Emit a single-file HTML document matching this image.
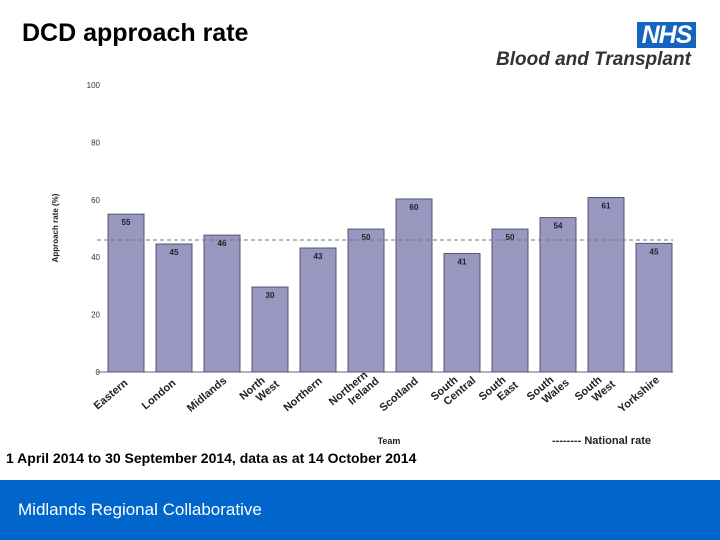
<!DOCTYPE html>
<html><head><meta charset="utf-8"><style>
body{margin:0;width:720px;height:540px;overflow:hidden;background:#fff;font-family:"Liberation Sans",Arial,sans-serif;position:relative}
.title{position:absolute;left:22px;top:19px;font-size:25px;font-weight:bold;color:#000}
.nhs{position:absolute;left:637px;top:22px;width:59px;height:26px;background:#1565c0;color:#fff;font-weight:bold;font-style:italic;font-size:25px;text-align:center;line-height:27px;letter-spacing:-1px}
.bt{position:absolute;left:496px;top:49px;font-size:19px;font-weight:bold;font-style:italic;color:#333;white-space:nowrap}
.sub{position:absolute;left:6px;top:450px;font-size:14px;font-weight:bold;color:#000}
.footer{position:absolute;left:0;top:480px;width:720px;height:60px;background:#0066cc}
.footer span{position:absolute;left:18px;top:20px;color:#fff;font-size:17px}
svg{position:absolute;left:0;top:0}
</style></head><body>
<div class="title">DCD approach rate</div>
<div class="nhs">NHS</div>
<div class="bt">Blood and Transplant</div>
<svg id="chart" width="720" height="480"></svg>
<div class="sub">1 April 2014 to 30 September 2014, data as at 14 October 2014</div>
<div class="footer"><span>Midlands Regional Collaborative</span></div>
<script>
const categories=[["Eastern"],["London"],["Midlands"],["North","West"],["Northern"],["Northern","Ireland"],["Scotland"],["South","Central"],["South","East"],["South","Wales"],["South","West"],["Yorkshire"]];
const values=[55,44.6,47.7,29.6,43.2,49.8,60.3,41.3,49.8,53.8,60.8,44.8];
const labels=["55","45","46","30","43","50","60","41","50","54","61","45"];
const yTicks=[0,20,40,60,80,100];
const nationalRate=46;
const NS="http://www.w3.org/2000/svg";
const svg=document.getElementById('chart');
const x0=97,bw=48,y0=372,ppu=2.87;
const y=v=>y0-v*ppu;
const xb=i=>x0+i*bw;
function el(t,a){const e=document.createElementNS(NS,t);for(const k in a)e.setAttribute(k,a[k]);svg.appendChild(e);return e;}
yTicks.forEach(t=>{
 const e=el('text',{x:100,y:y(t)+3,'font-size':8,'text-anchor':'end',fill:'#333'});
 
 
 e.textContent=t;
});
const ax=el('line',{x1:x0,y1:y0,x2:673,y2:y0,stroke:'#666','stroke-width':1});


const yt=el('text',{transform:'translate(58,228) rotate(-90)','font-size':8,'font-weight':'bold','text-anchor':'middle',fill:'#222'});


yt.textContent='Approach rate (%)';
values.forEach((v,i)=>{
 const b=el('rect',{x:xb(i)+11,y:y(v),width:36,height:v*ppu,fill:'#9797c0',stroke:'#555570','stroke-width':1});
 
 
 const t=el('text',{x:xb(i)+29,y:y(v)+11,'font-size':8,'font-weight':'bold','text-anchor':'middle',fill:'#222'});
 
 
 t.textContent=labels[i];
 const c=xb(i)+29;
 const two=categories[i].length>1;
 const g=el('text',{transform:`translate(${c-13},${two?394:397}) rotate(-40)`,'font-size':11,'font-weight':'bold','text-anchor':'middle',fill:'#222'});
 
 
 categories[i].forEach((s,j)=>{const ts=document.createElementNS(NS,'tspan');ts.setAttribute('x',two?j*10:0);ts.setAttribute('y',two?(j?8:-4):0);ts.textContent=s;g.appendChild(ts);});
});
const nl=el('line',{x1:x0,y1:y(nationalRate),x2:673,y2:y(nationalRate),stroke:'#777','stroke-width':1,'stroke-dasharray':'4,3'});


const xt=el('text',{x:389,y:444,'font-size':9,'font-weight':'bold','text-anchor':'middle',fill:'#222'});


xt.textContent='Team';
const lg=el('text',{x:552,y:444,'font-size':11,'font-weight':'bold',fill:'#222'});


lg.textContent='-------- National rate';
</script>
</body></html>
